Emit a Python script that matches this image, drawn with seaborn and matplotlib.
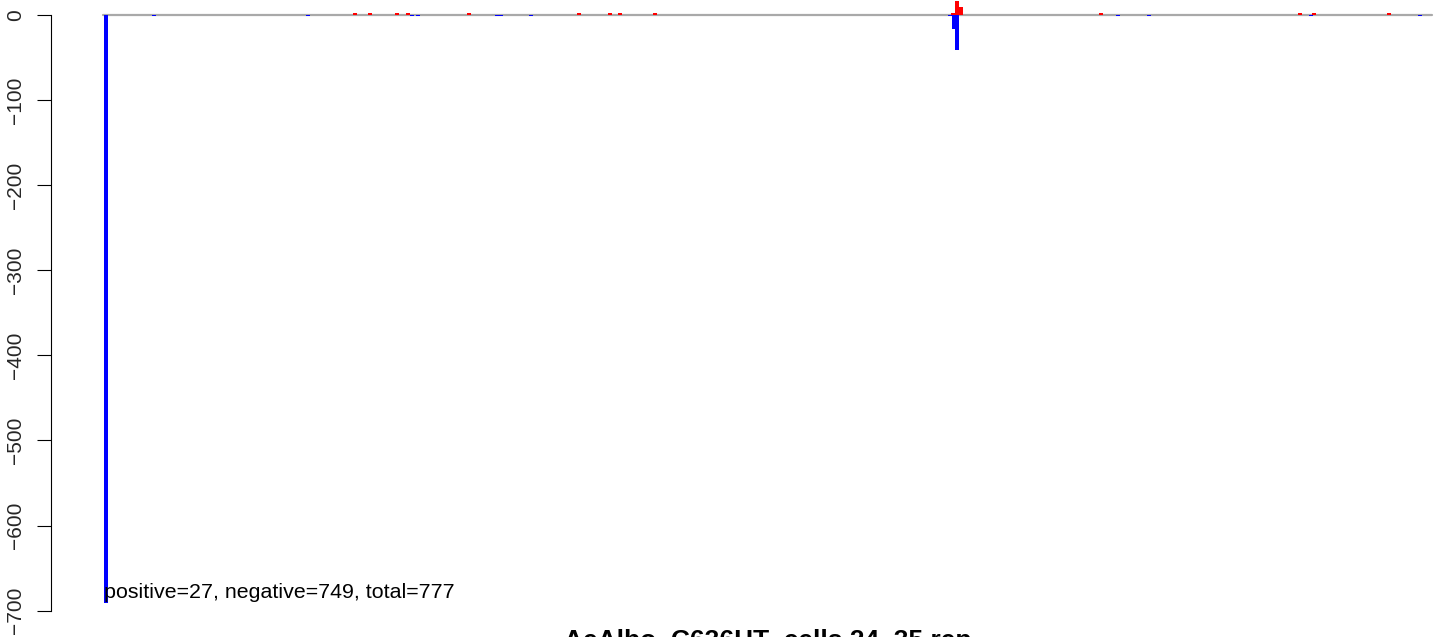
import matplotlib
matplotlib.use("Agg")
import matplotlib.pyplot as plt
import seaborn as sns

# ---- data ----
neg_positions = [3, 51, 205, 309, 314.5, 394, 397.5, 427.5, 846.5, 850.5, 854, 1015, 1046, 1208, 1317]
neg_values = [-691, -2, -2, -2, -2, -2, -2, -2, -2, -17, -42, -2, -2, -2, -2]
pos_positions = [251.5, 266.5, 294, 305, 365.5, 476, 507, 517, 552, 850, 854, 857.5, 998, 1197, 1211, 1286]
pos_values = [2, 2, 2, 2, 2, 2, 2, 2, 2, 2, 16, 9, 2, 2, 2, 2]
seq_start, seq_end = 0, 1329
yticks = [0, -100, -200, -300, -400, -500, -600, -700]
title = "AeAlbo_C636HT_cells 24_35 rep"
note = "positive=27, negative=749, total=777"

sns.set_theme(style="white")
plt.rcParams["font.family"] = ["Liberation Sans", "DejaVu Sans"]
plt.rcParams["axes.unicode_minus"] = True

W, H = 1444, 637
fig = plt.figure(figsize=(W / 100, H / 100), dpi=100)
ax = fig.add_axes([51 / W, 0, 1 - 51 / W, 1])
ax.set_facecolor("white")

# zero line
sns.lineplot(x=[seq_start, seq_end], y=[0, 0], ax=ax, color="#A9A9A9", lw=1.6, zorder=1)
ax.bar(neg_positions, neg_values, width=4, color="#0000FF", linewidth=0, zorder=2)
ax.bar(pos_positions, pos_values, width=4, color="#FF0000", linewidth=0, zorder=2)

ax.set_xlim(-52, 1341)
ax.set_ylim(-730.9, 17.3)

sns.despine(ax=ax, top=True, right=True, bottom=True, left=False)
ax.spines["left"].set_bounds(-700, 0)
ax.spines["left"].set_color("black")
ax.spines["left"].set_linewidth(0.8)
ax.set_xticks([])
ax.set_yticks(yticks)
ax.set_yticklabels([("\u2212" + str(-t)) if t < 0 else str(t) for t in yticks])
ax.tick_params(axis="y", direction="out", length=10, width=0.8, color="black",
               labelsize=15, pad=8.5, left=True)
for lab in ax.get_yticklabels():
    lab.set_rotation(90)
    lab.set_va("center")
ax.grid(False)

ax.text(0.5, -679, note, ha="left", va="center", fontsize=15.4, color="black")
fig.text(768 / W, -11 / H, title, ha="center", va="baseline", fontsize=19,
         fontweight="bold", color="black")

fig.savefig("out.png", dpi=100)
